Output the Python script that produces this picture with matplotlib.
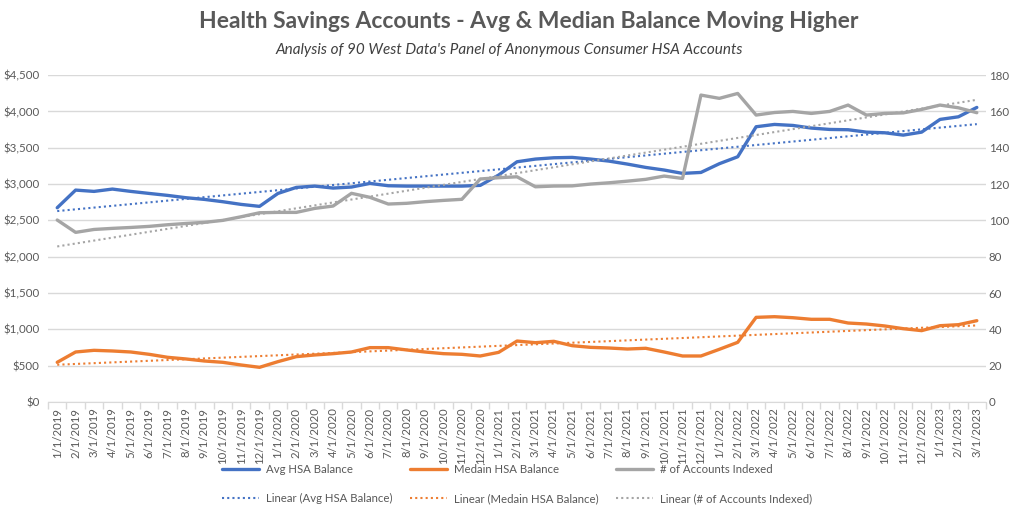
import matplotlib
matplotlib.use("Agg")
import matplotlib.pyplot as plt
import numpy as np
from matplotlib.ticker import FuncFormatter, FixedLocator

plt.rcParams['font.family'] = ['Lato', 'DejaVu Sans']

dates = []
for y in range(2019, 2024):
    for m in range(1, 13):
        if y == 2023 and m > 3:
            break
        dates.append(f"{m}/1/{y}")

avg_balance = [2674, 2917, 2899, 2931, 2899, 2871, 2844, 2812, 2789, 2757,
               2720, 2693, 2871, 2954, 2972, 2945, 2959, 3009, 2977, 2972,
               2972, 2972, 2972, 2982, 3124, 3307, 3344, 3362, 3367, 3344,
               3316, 3275, 3229, 3193, 3147, 3160, 3280, 3376, 3789, 3821,
               3807, 3771, 3752, 3748, 3715, 3706, 3674, 3715, 3890, 3926,
               4055]
median_balance = [546, 688, 711, 702, 688, 656, 615, 592, 564, 546,
                  509, 477, 555, 624, 647, 665, 688, 748, 748, 716,
                  688, 665, 656, 633, 683, 839, 816, 835, 775, 752,
                  743, 729, 739, 688, 633, 633, 725, 821, 1165, 1174,
                  1160, 1138, 1138, 1087, 1073, 1046, 1009, 982, 1050, 1064,
                  1119]
accounts_indexed = [100.2, 93.4, 95.0, 95.6, 96.1, 96.7, 97.6, 98.3, 98.9, 100.0,
                    102.0, 104.2, 104.4, 104.4, 106.6, 107.9, 114.9, 112.7, 109.0, 109.4,
                    110.3, 111.0, 111.6, 122.8, 123.5, 124.0, 118.5, 118.9, 119.0, 120.0,
                    120.7, 121.6, 122.6, 124.4, 123.1, 169.0, 167.2, 169.9, 158.0, 159.4,
                    160.0, 158.9, 160.0, 163.5, 158.0, 158.9, 159.2, 161.1, 163.5, 162.0,
                    159.3]

BLUE = '#4472C4'
ORANGE = '#ED7D31'
GRAY = '#A5A5A5'
TXT = '#595959'
GRID = '#D9D9D9'

fig = plt.figure(figsize=(10.24, 5.18), dpi=100)
ax = fig.add_axes([0.0469, 0.224, 0.9160, 0.631])
ax2 = ax.twinx()

x = np.arange(len(dates))

def trend(vals):
    c = np.polyfit(x, vals, 1)
    return np.polyval(c, x)

l1, = ax.plot(x, avg_balance, color=BLUE, lw=2.4, solid_capstyle='round', label='Avg HSA Balance', zorder=3)
l2, = ax.plot(x, median_balance, color=ORANGE, lw=2.4, solid_capstyle='round', label='Medain HSA Balance', zorder=3)
t1, = ax.plot(x, trend(avg_balance), color=BLUE, lw=1.5, ls=(0, (1, 1.5)), label='Linear (Avg HSA Balance)', zorder=4)
t2, = ax.plot(x, trend(median_balance), color=ORANGE, lw=1.5, ls=(0, (1, 1.5)), label='Linear (Medain HSA Balance)', zorder=4)
l3, = ax2.plot(x, accounts_indexed, color=GRAY, lw=2.4, solid_capstyle='round', label='# of Accounts Indexed', zorder=3)
t3, = ax2.plot(x, trend(accounts_indexed), color=GRAY, lw=1.5, ls=(0, (1, 1.5)), label='Linear (# of Accounts Indexed)', zorder=4)

ax.set_xlim(-0.5, len(dates) - 0.5)
ax.set_ylim(0, 4500)
ax2.set_ylim(0, 180)
ax.set_yticks(np.arange(0, 4501, 500))
ax2.set_yticks(np.arange(0, 181, 20))
ax.yaxis.set_major_formatter(FuncFormatter(lambda v, p: f"${v:,.0f}"))

ax.set_xticks(x)
ax.set_xticklabels(dates, rotation=90, fontsize=8.2, color=TXT)
ax.xaxis.set_minor_locator(FixedLocator(np.arange(-0.5, len(dates), 1.0)))
ax.tick_params(axis='x', which='major', length=0, pad=4)
ax.tick_params(axis='x', which='minor', length=5, color=GRID, width=1)
ax.tick_params(axis='y', length=0, labelsize=8.3, labelcolor=TXT, pad=6)
ax2.tick_params(axis='y', length=0, labelsize=8.3, labelcolor=TXT, pad=2)

ax.grid(axis='y', color=GRID, lw=1)
ax.set_axisbelow(True)
for a in (ax, ax2):
    for s in ('top', 'left', 'right'):
        a.spines[s].set_visible(False)
    a.spines['bottom'].set_color(GRID)
ax2.spines['bottom'].set_visible(False)

fig.text(0.516, 0.958, 'Health Savings Accounts - Avg & Median Balance Moving Higher',
         ha='center', va='center', fontsize=16.5, fontweight='bold', color=TXT)
fig.text(0.497, 0.904, "Analysis of 90 West Data's Panel of Anonymous Consumer HSA Accounts",
         ha='center', va='center', fontsize=11, style='italic', color='#404040')

leg = fig.legend(handles=[l1, t1, l2, t2, l3, t3], ncol=3, loc='center',
                 bbox_to_anchor=(0.505, 0.066), frameon=False, fontsize=8.2,
                 handlelength=3.2, columnspacing=1.6, labelspacing=1.6, handletextpad=0.6)
for t in leg.get_texts():
    t.set_color(TXT)

fig.savefig('out.png', dpi=100)
